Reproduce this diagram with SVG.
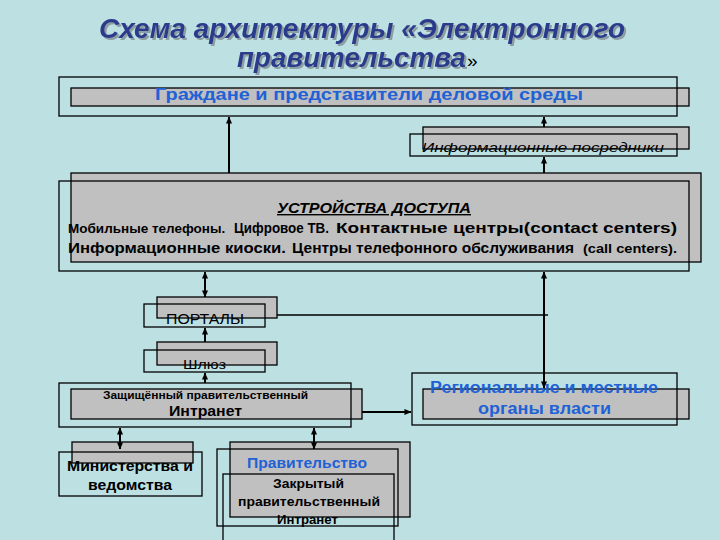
<svg xmlns="http://www.w3.org/2000/svg" width="720" height="540" viewBox="0 0 720 540">
<defs>
<marker id="ah" viewBox="0 0 8 8" refX="7.5" refY="4" markerWidth="7" markerHeight="7" markerUnits="userSpaceOnUse" orient="auto-start-reverse">
<path d="M0,0.5 L8,4 L0,7.5 Z" fill="#000"/>
</marker>
<filter id="sh" x="-5%" y="-20%" width="110%" height="150%">
<feDropShadow dx="2" dy="2" stdDeviation="0.6" flood-color="#8d9ea3" flood-opacity="1"/>
</filter>
</defs>
<style>
.g{fill:#c0c0c0;stroke:#000;stroke-width:1.3}
.o{fill:none;stroke:#000;stroke-width:1.3}
.t{font-family:"Liberation Sans",Arial,sans-serif;fill:#000}
.b{font-weight:bold}
.blue{fill:#2062d6}
.ttl{font-family:"Liberation Sans",Arial,sans-serif;font-weight:bold;font-style:italic;font-size:27px;fill:#2b3a8c;filter:url(#sh)}
.c{stroke:#000;stroke-width:2;fill:none}
</style>
<rect x="0" y="0" width="720" height="540" fill="#bde0e3"/>
<g id="title">
<text class="ttl" x="99" y="38" textLength="526" lengthAdjust="spacingAndGlyphs">Схема архитектуры «Электронного</text>
<text class="ttl" x="237" y="67" textLength="229" lengthAdjust="spacingAndGlyphs">правительства</text>
<text class="t" x="467" y="67" font-size="19" fill="#1a1a40">»</text>
</g>
<g id="citizens">
<rect class="g" x="71" y="88" width="618" height="18"/>
<rect class="o" x="59" y="77" width="618" height="39"/>
<text class="t b blue" x="155" y="100" font-size="17" textLength="428" lengthAdjust="spacingAndGlyphs">Граждане и представители деловой среды</text>
</g>
<g id="intermediaries">
<rect class="g" x="423" y="127" width="266" height="22"/>
<rect class="o" x="410" y="134" width="267" height="22"/>
<text class="t" x="422" y="152" font-size="13" font-style="italic" textLength="242" lengthAdjust="spacingAndGlyphs">Информационные посредники</text>
</g>
<g id="access">
<rect class="g" x="71" y="173" width="630" height="89"/>
<rect class="o" x="59" y="181" width="630" height="90"/>
<text class="t b" x="277" y="213" font-size="14" font-style="italic" text-decoration="underline" textLength="194" lengthAdjust="spacingAndGlyphs">УСТРОЙСТВА ДОСТУПА</text>
<text class="t b" x="68" y="233" font-size="13.5">Мобильные телефоны.</text>
<text class="t b" x="234" y="233" font-size="14.5" textLength="95" lengthAdjust="spacingAndGlyphs">Цифровое ТВ.</text>
<text class="t b" x="336" y="233" font-size="15" textLength="341" lengthAdjust="spacingAndGlyphs">Контактные центры(contact centers)</text>
<text class="t b" y="253" font-size="15"><tspan x="68" textLength="218" lengthAdjust="spacingAndGlyphs">Информационные киоски.</tspan><tspan x="292" textLength="282" lengthAdjust="spacingAndGlyphs">Центры телефонного обслуживания</tspan><tspan x="583" font-size="12" textLength="94" lengthAdjust="spacingAndGlyphs">(call centers).</tspan></text>
</g>
<g id="portals">
<rect class="g" x="157" y="297" width="120" height="21"/>
<rect class="o" x="144" y="304" width="121" height="23"/>
<text class="t" x="166" y="324" font-size="14" textLength="78" lengthAdjust="spacingAndGlyphs">ПОРТАЛЫ</text>
</g>
<g id="gateway">
<rect class="g" x="157" y="342" width="120" height="23"/>
<rect class="o" x="144" y="350" width="121" height="22"/>
<text class="t" x="183" y="369" font-size="13" textLength="43" lengthAdjust="spacingAndGlyphs">Шлюз</text>
</g>
<g id="intranet">
<rect class="g" x="71" y="389" width="291" height="30"/>
<rect class="o" x="59" y="383" width="292" height="44"/>
<text class="t b" x="103" y="399" font-size="11" textLength="205" lengthAdjust="spacingAndGlyphs">Защищённый правительственный</text>
<text class="t b" x="169" y="416" font-size="14.5" textLength="73" lengthAdjust="spacingAndGlyphs">Интранет</text>
</g>
<g id="regional">
<rect class="g" x="423" y="389" width="266" height="30"/>
<rect class="o" x="412" y="373" width="265" height="52"/>
<text class="t b blue" x="430" y="393" font-size="16" textLength="228" lengthAdjust="spacingAndGlyphs">Региональные и местные</text>
<text class="t b blue" x="478" y="414" font-size="16" textLength="133" lengthAdjust="spacingAndGlyphs">органы власти</text>
</g>
<g id="ministries">
<rect class="g" x="72" y="442" width="121" height="21"/>
<rect class="o" x="59" y="452" width="143" height="44"/>
<text class="t b" x="67" y="471" font-size="14.5" textLength="126" lengthAdjust="spacingAndGlyphs">Министерства и</text>
<text class="t b" x="88" y="490" font-size="14.5" textLength="84" lengthAdjust="spacingAndGlyphs">ведомства</text>
</g>
<g id="government">
<rect class="g" x="230" y="442" width="180" height="75"/>
<rect class="o" x="217" y="449" width="181" height="77"/>
<rect class="o" x="223" y="474" width="171" height="72"/>
<text class="t b blue" x="247" y="468" font-size="15" textLength="120" lengthAdjust="spacingAndGlyphs">Правительство</text>
<text class="t b" x="273" y="488" font-size="12.5" textLength="71" lengthAdjust="spacingAndGlyphs">Закрытый</text>
<text class="t b" x="238" y="506" font-size="12.5" textLength="142" lengthAdjust="spacingAndGlyphs">правительственный</text>
<text class="t b" x="277" y="524" font-size="12.5" textLength="61" lengthAdjust="spacingAndGlyphs">Интранет</text>
</g>
<g id="connectors">
<line class="c" x1="229" y1="173" x2="229" y2="117" marker-end="url(#ah)"/>
<line class="c" x1="544" y1="127" x2="544" y2="117" marker-end="url(#ah)"/>
<line class="c" x1="544" y1="173" x2="544" y2="157" marker-end="url(#ah)"/>
<line class="c" x1="205" y1="272" x2="205" y2="297" marker-start="url(#ah)" marker-end="url(#ah)"/>
<line class="c" x1="205" y1="342" x2="205" y2="328" marker-end="url(#ah)"/>
<line class="c" x1="205" y1="383" x2="205" y2="373" marker-end="url(#ah)"/>
<line class="c" x1="544" y1="272" x2="544" y2="388" marker-start="url(#ah)" marker-end="url(#ah)"/>
<line x1="277" y1="315" x2="548" y2="315" stroke="#000" stroke-width="1.3"/>
<line class="c" x1="362" y1="412" x2="411" y2="412" marker-end="url(#ah)"/>
<line class="c" x1="120" y1="428" x2="120" y2="449" marker-start="url(#ah)" marker-end="url(#ah)"/>
<line class="c" x1="314" y1="428" x2="314" y2="449" marker-start="url(#ah)" marker-end="url(#ah)"/>
</g>
</svg>
